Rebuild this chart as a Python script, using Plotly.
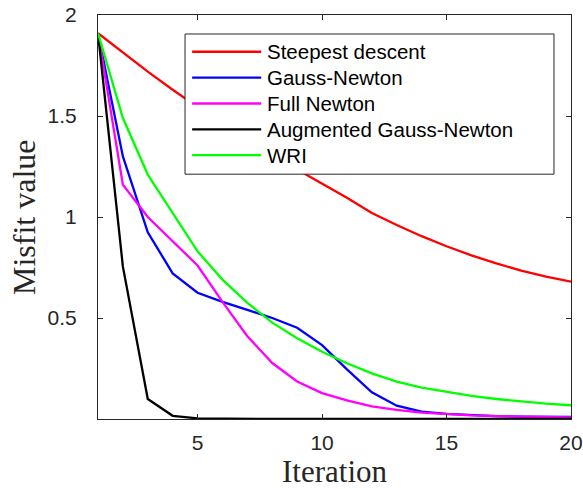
import plotly.graph_objects as go

iterations = list(range(1, 21))

steepest_descent = [1.91, 1.815, 1.72, 1.63, 1.545, 1.46, 1.38, 1.30, 1.235, 1.165,
                    1.095, 1.02, 0.96, 0.905, 0.855, 0.81, 0.77, 0.735, 0.705, 0.68]
gauss_newton = [1.91, 1.30, 0.924, 0.721, 0.625, 0.58, 0.54, 0.50, 0.452, 0.366,
                0.246, 0.132, 0.066, 0.036, 0.025, 0.018, 0.014, 0.012, 0.011, 0.010]
full_newton = [1.91, 1.16, 1.0, 0.88, 0.76, 0.58, 0.41, 0.277, 0.186, 0.128,
               0.092, 0.062, 0.045, 0.032, 0.024, 0.018, 0.014, 0.011, 0.009, 0.008]
augmented_gn = [1.91, 0.754, 0.099, 0.016, 0.003, 0.001, 0.0005, 0.0003, 0.0002, 0.0001,
                0.0001, 0.0001, 0.0001, 0.0001, 0.0001, 0.0001, 0.0001, 0.0001, 0.0001, 0.0001]
wri = [1.91, 1.49, 1.21, 1.02, 0.83, 0.69, 0.575, 0.477, 0.40, 0.333,
       0.276, 0.226, 0.185, 0.155, 0.135, 0.115, 0.099, 0.086, 0.076, 0.068]

series_names = ["Steepest descent", "Gauss-Newton", "Full Newton",
                "Augmented Gauss-Newton", "WRI"]
series_values = [steepest_descent, gauss_newton, full_newton, augmented_gn, wri]
series_colors = ["#ff0000", "#0000ff", "#ff00ff", "#000000", "#00ff00"]

x_tickvals = [5, 10, 15, 20]
y_tickvals = [0.5, 1, 1.5, 2]
y_ticktext = ["0.5", "1", "1.5", "2"]
x_title = "Iteration"
y_title = "Misfit value"

fig = go.Figure()
for name, vals, col in zip(series_names, series_values, series_colors):
    fig.add_trace(go.Scatter(x=iterations, y=vals, mode="lines", name=name,
                             line=dict(color=col, width=2.3), showlegend=False))

# custom legend (box, sample lines, labels) in paper coordinates
leg_x0, leg_x1, leg_y0, leg_y1 = 0.184, 0.964, 0.606, 0.953
row_y = [0.909, 0.845, 0.781, 0.717, 0.653]
shapes = [dict(type="rect", xref="paper", yref="paper", x0=leg_x0, x1=leg_x1,
               y0=leg_y0, y1=leg_y1, line=dict(color="#262626", width=1),
               fillcolor="white", layer="above")]
annotations = []
for name, col, ry in zip(series_names, series_colors, row_y):
    shapes.append(dict(type="line", xref="paper", yref="paper", x0=0.199, x1=0.345,
                       y0=ry, y1=ry, line=dict(color=col, width=2.3), layer="above"))
    annotations.append(dict(xref="paper", yref="paper", x=0.354, y=ry, text=name,
                            showarrow=False, xanchor="left", yanchor="middle",
                            font=dict(family="Liberation Sans, Arial", size=20.5,
                                      color="#000000")))

title_font = dict(family="Liberation Serif, Times New Roman", size=32, color="#262626")
annotations.append(dict(xref="paper", yref="paper", x=0.5, y=0, yshift=-52,
                        text=x_title, showarrow=False, xanchor="center",
                        yanchor="middle", font=dict(title_font, size=31)))
annotations.append(dict(xref="paper", yref="paper", x=0, y=0.5, xshift=-74,
                        text=y_title, showarrow=False, xanchor="center",
                        yanchor="middle", textangle=-90, font=title_font))

fig.update_layout(
    width=583, height=489,
    margin=dict(l=98, r=12, t=15, b=70, autoexpand=False),
    paper_bgcolor="white", plot_bgcolor="white",
    shapes=shapes, annotations=annotations,
    showlegend=False,
    font=dict(family="Liberation Sans, Arial", color="#262626"),
)
axis_common = dict(showgrid=False, zeroline=False, showline=True, linecolor="#262626",
                   linewidth=1, mirror="allticks", ticks="inside", ticklen=5,
                   tickcolor="#262626", tickfont=dict(size=21, color="#262626"),
                   automargin=False, ticklabeloverflow="allow")
fig.update_xaxes(range=[1, 20], tickvals=x_tickvals, ticklabelstandoff=5, **axis_common)
fig.update_yaxes(range=[0, 2], tickvals=y_tickvals, ticktext=y_ticktext,
                 ticklabelstandoff=16, **axis_common)

fig.write_html("out.html",
               config={"displayModeBar": False},
               post_script="document.body.style.margin='0';"
                           "document.body.style.overflow='hidden';")
